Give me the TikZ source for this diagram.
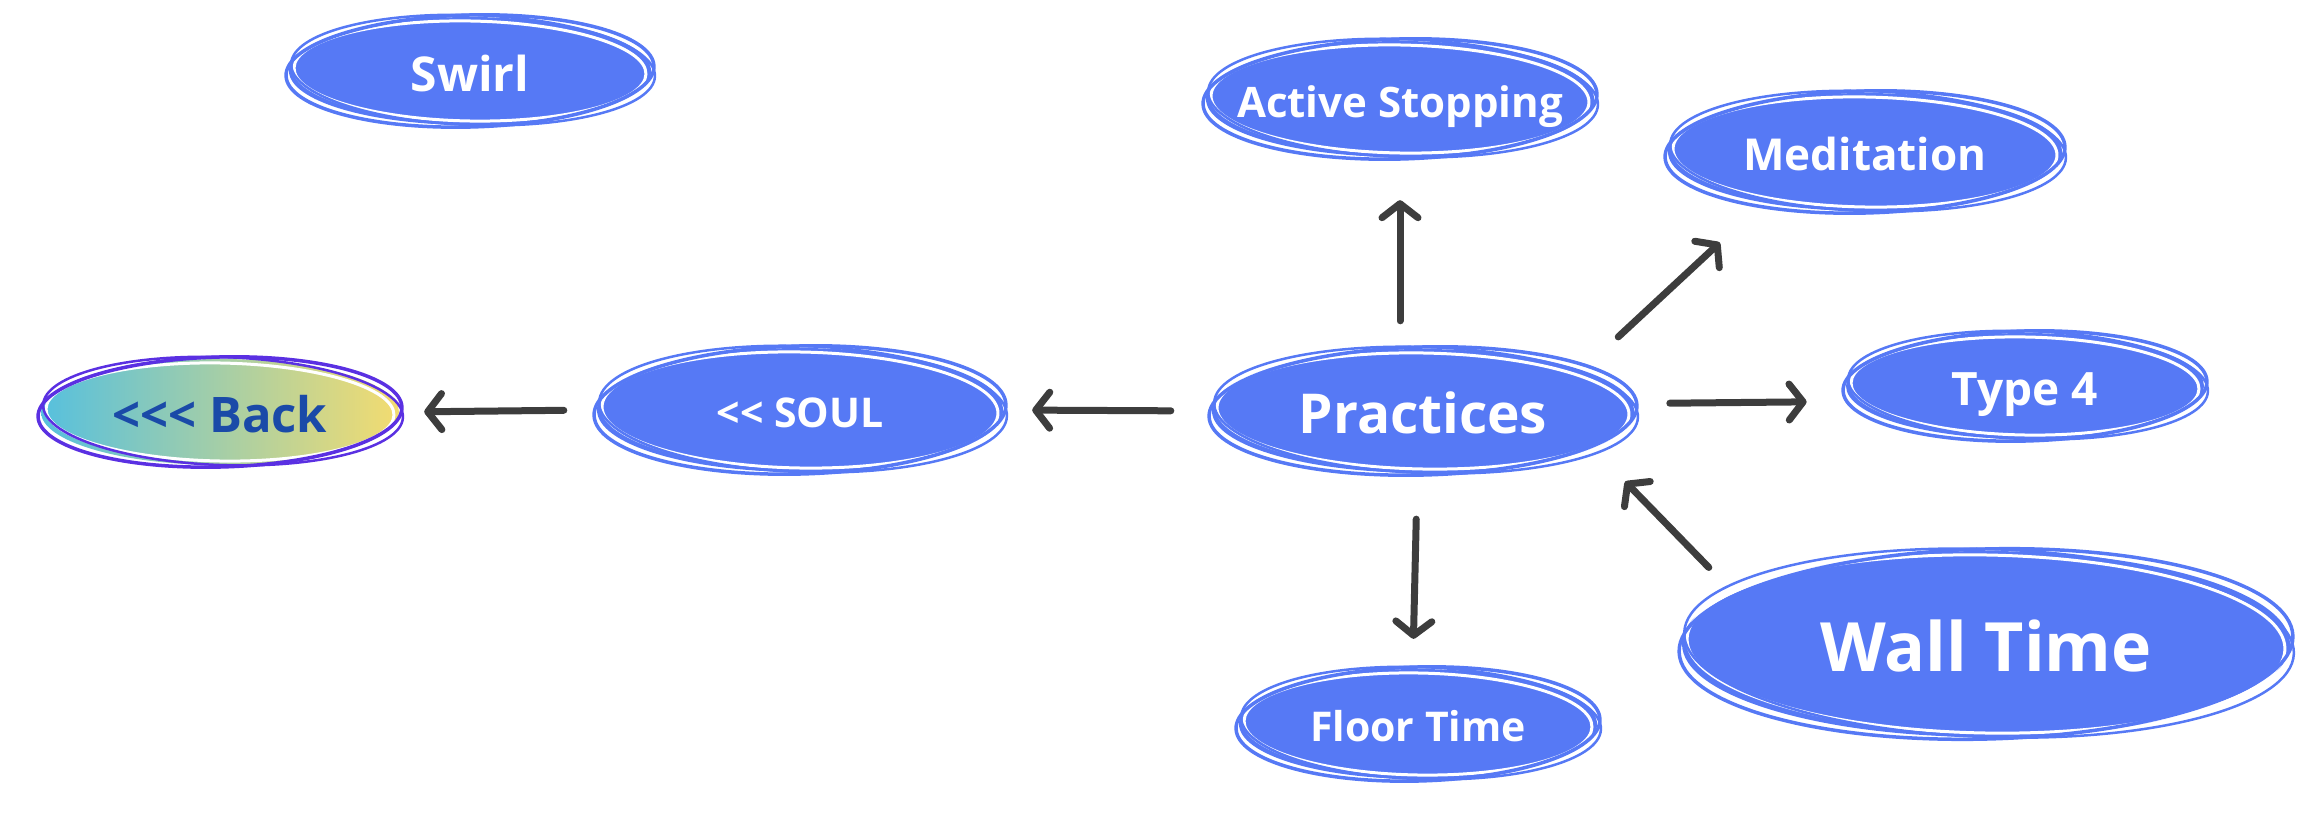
\documentclass[tikz,border=0pt]{standalone}
\usepackage{fontspec}
\setmainfont{Open Sans}
\usetikzlibrary{shapes.geometric,arrows.meta}
\definecolor{nodeblue}{HTML}{5679F5}
\definecolor{arrowgray}{HTML}{3D3D3D}
\definecolor{backring}{HTML}{5A30E2}
\definecolor{backL}{HTML}{56C0DE}
\definecolor{backR}{HTML}{F3DC70}
\definecolor{backtext}{HTML}{1A4AA8}
\newcommand\sketchring[5]{%
  \draw[white, line width=3pt, rotate around={-1:(#1,#2)}] (#1,#2) ellipse ({#3-9} and {#4-8});
  \draw[#5, line width=3.5pt, rotate around={1.5:(#1,#2)}] (#1,#2) ellipse ({#3-1} and {#4-2});
  \draw[#5, line width=2.5pt, rotate around={-2:(#1,#2)}] (#1+3,#2-1) ellipse ({#3-3} and {#4-3});
}
\newcommand\sketchell[4]{%
  \fill[nodeblue] (#1,#2) ellipse ({#3-4} and {#4-4});
  \sketchring{#1}{#2}{#3}{#4}{nodeblue}%
}
\newcommand\captxt[1]{\raisebox{0pt}[\dimexpr0.72em+6pt\relax][0pt]{#1}}
\tikzset{
  lbl/.style={ellipse, inner sep=0pt, text=white},
  arr/.style={draw=arrowgray, line width=7pt, line cap=round,
    -{Straight Barb[length=14pt,width=36pt,line width=7pt,round]}},
}
\begin{document}
\begin{tikzpicture}[x=1pt,y=-1pt]
\useasboundingbox (0,0) rectangle (2322,818);
% Swirl
\sketchell{470}{71}{185}{58}
\node[lbl, minimum width=370pt, minimum height=116pt, font=\bfseries\fontsize{48}{52}\selectfont] (swirl) at (470,71) {\captxt{Swirl}};
% Back
\shade[left color=backL, right color=backR] (220,412) ellipse (179 and 53);
\sketchring{220}{412}{183}{57}{backring}
\node[lbl, text=backtext, minimum width=366pt, minimum height=114pt, font=\bfseries\fontsize{49}{53}\selectfont] (back) at (220,412) {\captxt{<{}<{}< Back}};
% SOUL
\sketchell{800}{410}{207}{66}
\node[lbl, minimum width=414pt, minimum height=132pt, font=\bfseries\fontsize{41}{45}\selectfont] (soul) at (800,410) {\captxt{<{}< SOUL}};
% Practices
\sketchell{1423}{411}{215}{66}
\node[lbl, minimum width=430pt, minimum height=132pt, font=\bfseries\fontsize{55}{60}\selectfont] (prac) at (1423,411) {\captxt{Practices}};
% Active Stopping
\sketchell{1400}{99}{198}{62}
\node[lbl, minimum width=396pt, minimum height=124pt, font=\bfseries\fontsize{42}{46}\selectfont] (as) at (1400,99) {\captxt{Active Stopping}};
% Meditation
\sketchell{1865}{152}{201}{63}
\node[lbl, minimum width=402pt, minimum height=126pt, font=\bfseries\fontsize{44}{49}\selectfont] (med) at (1865,152) {\captxt{Meditation}};
% Type 4
\sketchell{2025}{386}{183}{57}
\node[lbl, minimum width=366pt, minimum height=114pt, font=\bfseries\fontsize{46}{51}\selectfont] (type4) at (2025,386) {\captxt{Type 4}};
% Wall Time
\sketchell{1986}{644}{308}{97}
\node[lbl, minimum width=616pt, minimum height=194pt, font=\bfseries\fontsize{68}{74}\selectfont] (wall) at (1986,644) {\captxt{Wall Time}};
% Floor Time
\sketchell{1418}{724}{183}{59}
\node[lbl, minimum width=366pt, minimum height=118pt, font=\bfseries\fontsize{41}{45}\selectfont] (floor) at (1418,724) {\captxt{Floor Time}};
% connectors
\draw[arr, shorten <=37pt, shorten >=25pt] (prac.west) -- (soul.east);
\draw[arr, shorten <=29pt, shorten >=21pt] (soul.west) -- (back.east);
\draw[arr, shorten <=24pt, shorten >=39pt] (prac.north -| as.south) -- (as.south);
\draw[arr, shorten <=45pt, shorten >=54pt] (prac.15) -- (med.207);
\draw[arr, shorten <=33pt, shorten >=42pt] (prac.2) -- (type4.185);
\draw[arr, shorten <=31pt, shorten >=43pt] (wall.168) -- (prac.-13);
\draw[arr, shorten <=42pt, shorten >=26pt] (prac.265) -- (floor.95);
\end{tikzpicture}
\end{document}
